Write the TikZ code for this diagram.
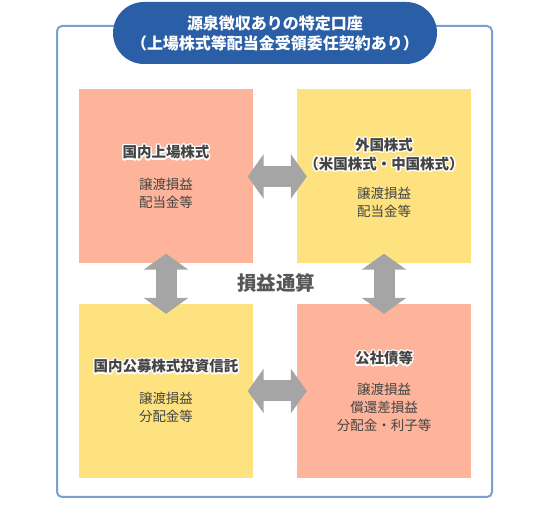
\documentclass[tikz,border=0pt]{standalone}
\usepackage{fontspec}
\setmainfont{Noto Sans CJK JP}
\usepackage{contour}
\contourlength{1.2pt}
\contournumber{24}
\usetikzlibrary{arrows.meta}
\definecolor{salmon}{HTML}{FDB49A}
\definecolor{butter}{HTML}{FDE27F}
\definecolor{arrowgray}{HTML}{A5A5A5}
\definecolor{pillblue}{HTML}{2A5EA7}
\definecolor{framebl}{HTML}{7C9ED0}
\definecolor{txtgray}{HTML}{444444}
\tikzset{
  x=1pt, y=-1pt,
  box/.style={minimum width=174pt, minimum height=174pt, inner sep=0pt, draw=none},
  titletext/.style={font=\fontsize{14.5pt}{19pt}\selectfont\bfseries, text=txtgray, align=center, inner sep=0pt},
  bodytext/.style={font=\fontsize{13.5pt}{18pt}\selectfont, text=txtgray, align=center, inner sep=0pt},
  blockarrow/.style={draw=arrowgray, line width=21pt,
     {Triangle[width=44pt,length=16pt]}-{Triangle[width=44pt,length=16pt]}},
}
\begin{document}
\begin{tikzpicture}
\useasboundingbox (0,0) rectangle (550,505);
% frame
\node[draw=framebl, line width=2pt, rounded corners=5pt, minimum width=435pt, minimum height=471pt, inner sep=0pt] (frame) at (274.5,261.5) {};
% header pill
\node[fill=pillblue, rounded corners=31pt, minimum width=324pt, minimum height=62pt, inner sep=0pt,
      text=white, align=center, font=\fontsize{16pt}{20pt}\selectfont\bfseries] (head) at (275,33)
  {源泉徴収ありの特定口座\\（上場株式等配当金受領委任契約あり）};
% boxes
\node[box, fill=salmon] (tl) at (166,176.5) {};
\node[box, fill=butter] (tr) at (384,176.5) {};
\node[box, fill=butter] (bl) at (166,391) {};
\node[box, fill=salmon] (br) at (384,391) {};
% arrows
\draw[blockarrow] ([xshift=-5.5pt]tl.east) -- ([xshift=10pt]tr.west);
\draw[blockarrow] ([xshift=-5.5pt]bl.east) -- ([xshift=10pt]br.west);
\draw[blockarrow] ([yshift=10pt]tl.south) -- ([yshift=-10pt]bl.north);
\draw[blockarrow] ([yshift=10pt]tr.south) -- ([yshift=-10pt]br.north);
% center label
\node[font=\fontsize{19.5pt}{22pt}\selectfont\bfseries, text=txtgray!90!white, inner sep=0pt] (center) at (276,283) {損益通算};
% texts
\node[titletext] (tlt) at (166,153) {\contour{white}{国内上場株式}};
\node[bodytext] (tlb) at (166,193.5) {譲渡損益\\配当金等};
\node[titletext] (trt) at (384,155.4) {\contour{white}{外国株式}\\\contour{white}{（米国株式・中国株式）}};
\node[bodytext] (trb) at (384,202.4) {譲渡損益\\配当金等};
\node[titletext] (blt) at (166,367) {\contour{white}{国内公募株式投資信託}};
\node[bodytext] (blb) at (166,407.4) {譲渡損益\\分配金等};
\node[titletext] (brt) at (384,359) {\contour{white}{公社債等}};
\node[bodytext] (brb) at (384,407) {譲渡損益\\償還差損益\\分配金・利子等};
\end{tikzpicture}
\end{document}
